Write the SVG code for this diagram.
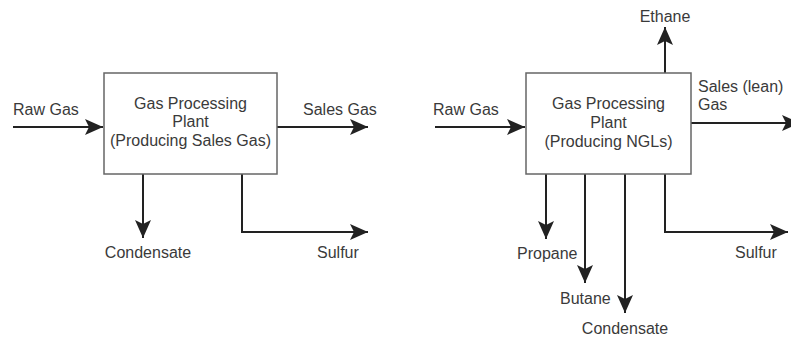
<svg xmlns="http://www.w3.org/2000/svg" width="791" height="339" viewBox="0 0 791 339">
<style>
.t{font-family:"Liberation Sans",Arial,sans-serif;font-size:16px;fill:#3a3a3a}
.c{text-anchor:middle}
.box{fill:#fff;stroke:#666;stroke-width:1.5}
.e{fill:none;stroke:#222;stroke-width:2}
</style>
<defs>
<marker id="ah" markerUnits="userSpaceOnUse" markerWidth="20" markerHeight="20" viewBox="-18 -10 20 20" refX="0" refY="0" orient="auto">
<path d="M0,0 L-18,-8 L-14,0 L-18,8 Z" fill="#222"/>
</marker>
</defs>
<rect width="791" height="339" fill="#fff"/>
<g id="connectors">
<path class="e" d="M13,127 H103" marker-end="url(#ah)"/>
<path class="e" d="M277,127 H368" marker-end="url(#ah)"/>
<path class="e" d="M143,174 V238" marker-end="url(#ah)"/>
<path class="e" d="M242,174 V232 H368" marker-end="url(#ah)"/>
<path class="e" d="M435,127 H525" marker-end="url(#ah)"/>
<path class="e" d="M665,73 V27" marker-end="url(#ah)"/>
<path class="e" d="M691,123 H800" marker-end="url(#ah)"/>
<path class="e" d="M546,174 V239" marker-end="url(#ah)"/>
<path class="e" d="M585,174 V283" marker-end="url(#ah)"/>
<path class="e" d="M625,174 V313" marker-end="url(#ah)"/>
<path class="e" d="M665,174 V232 H788" marker-end="url(#ah)"/>
</g>
<g id="plant1">
<rect class="box" x="104" y="73" width="173" height="101"/>
<text class="t c" x="190.5" y="109">Gas Processing</text>
<text class="t c" x="190.5" y="127">Plant</text>
<text class="t c" x="190.5" y="146">(Producing Sales Gas)</text>
</g>
<g id="plant2">
<rect class="box" x="526" y="73" width="165" height="101"/>
<text class="t c" x="608.5" y="109">Gas Processing</text>
<text class="t c" x="608.5" y="128">Plant</text>
<text class="t c" x="608.5" y="147">(Producing NGLs)</text>
</g>
<g id="labels">
<text class="t" x="13" y="115">Raw Gas</text>
<text class="t" x="303" y="115">Sales Gas</text>
<text class="t c" x="148" y="258">Condensate</text>
<text class="t" x="317" y="258">Sulfur</text>
<text class="t" x="433" y="115">Raw Gas</text>
<text class="t c" x="665" y="22">Ethane</text>
<text class="t" x="698" y="92">Sales (lean)</text>
<text class="t" x="698" y="110">Gas</text>
<text class="t" x="517" y="259">Propane</text>
<text class="t" x="560" y="304">Butane</text>
<text class="t c" x="625" y="334">Condensate</text>
<text class="t" x="735" y="258">Sulfur</text>
</g>
</svg>
